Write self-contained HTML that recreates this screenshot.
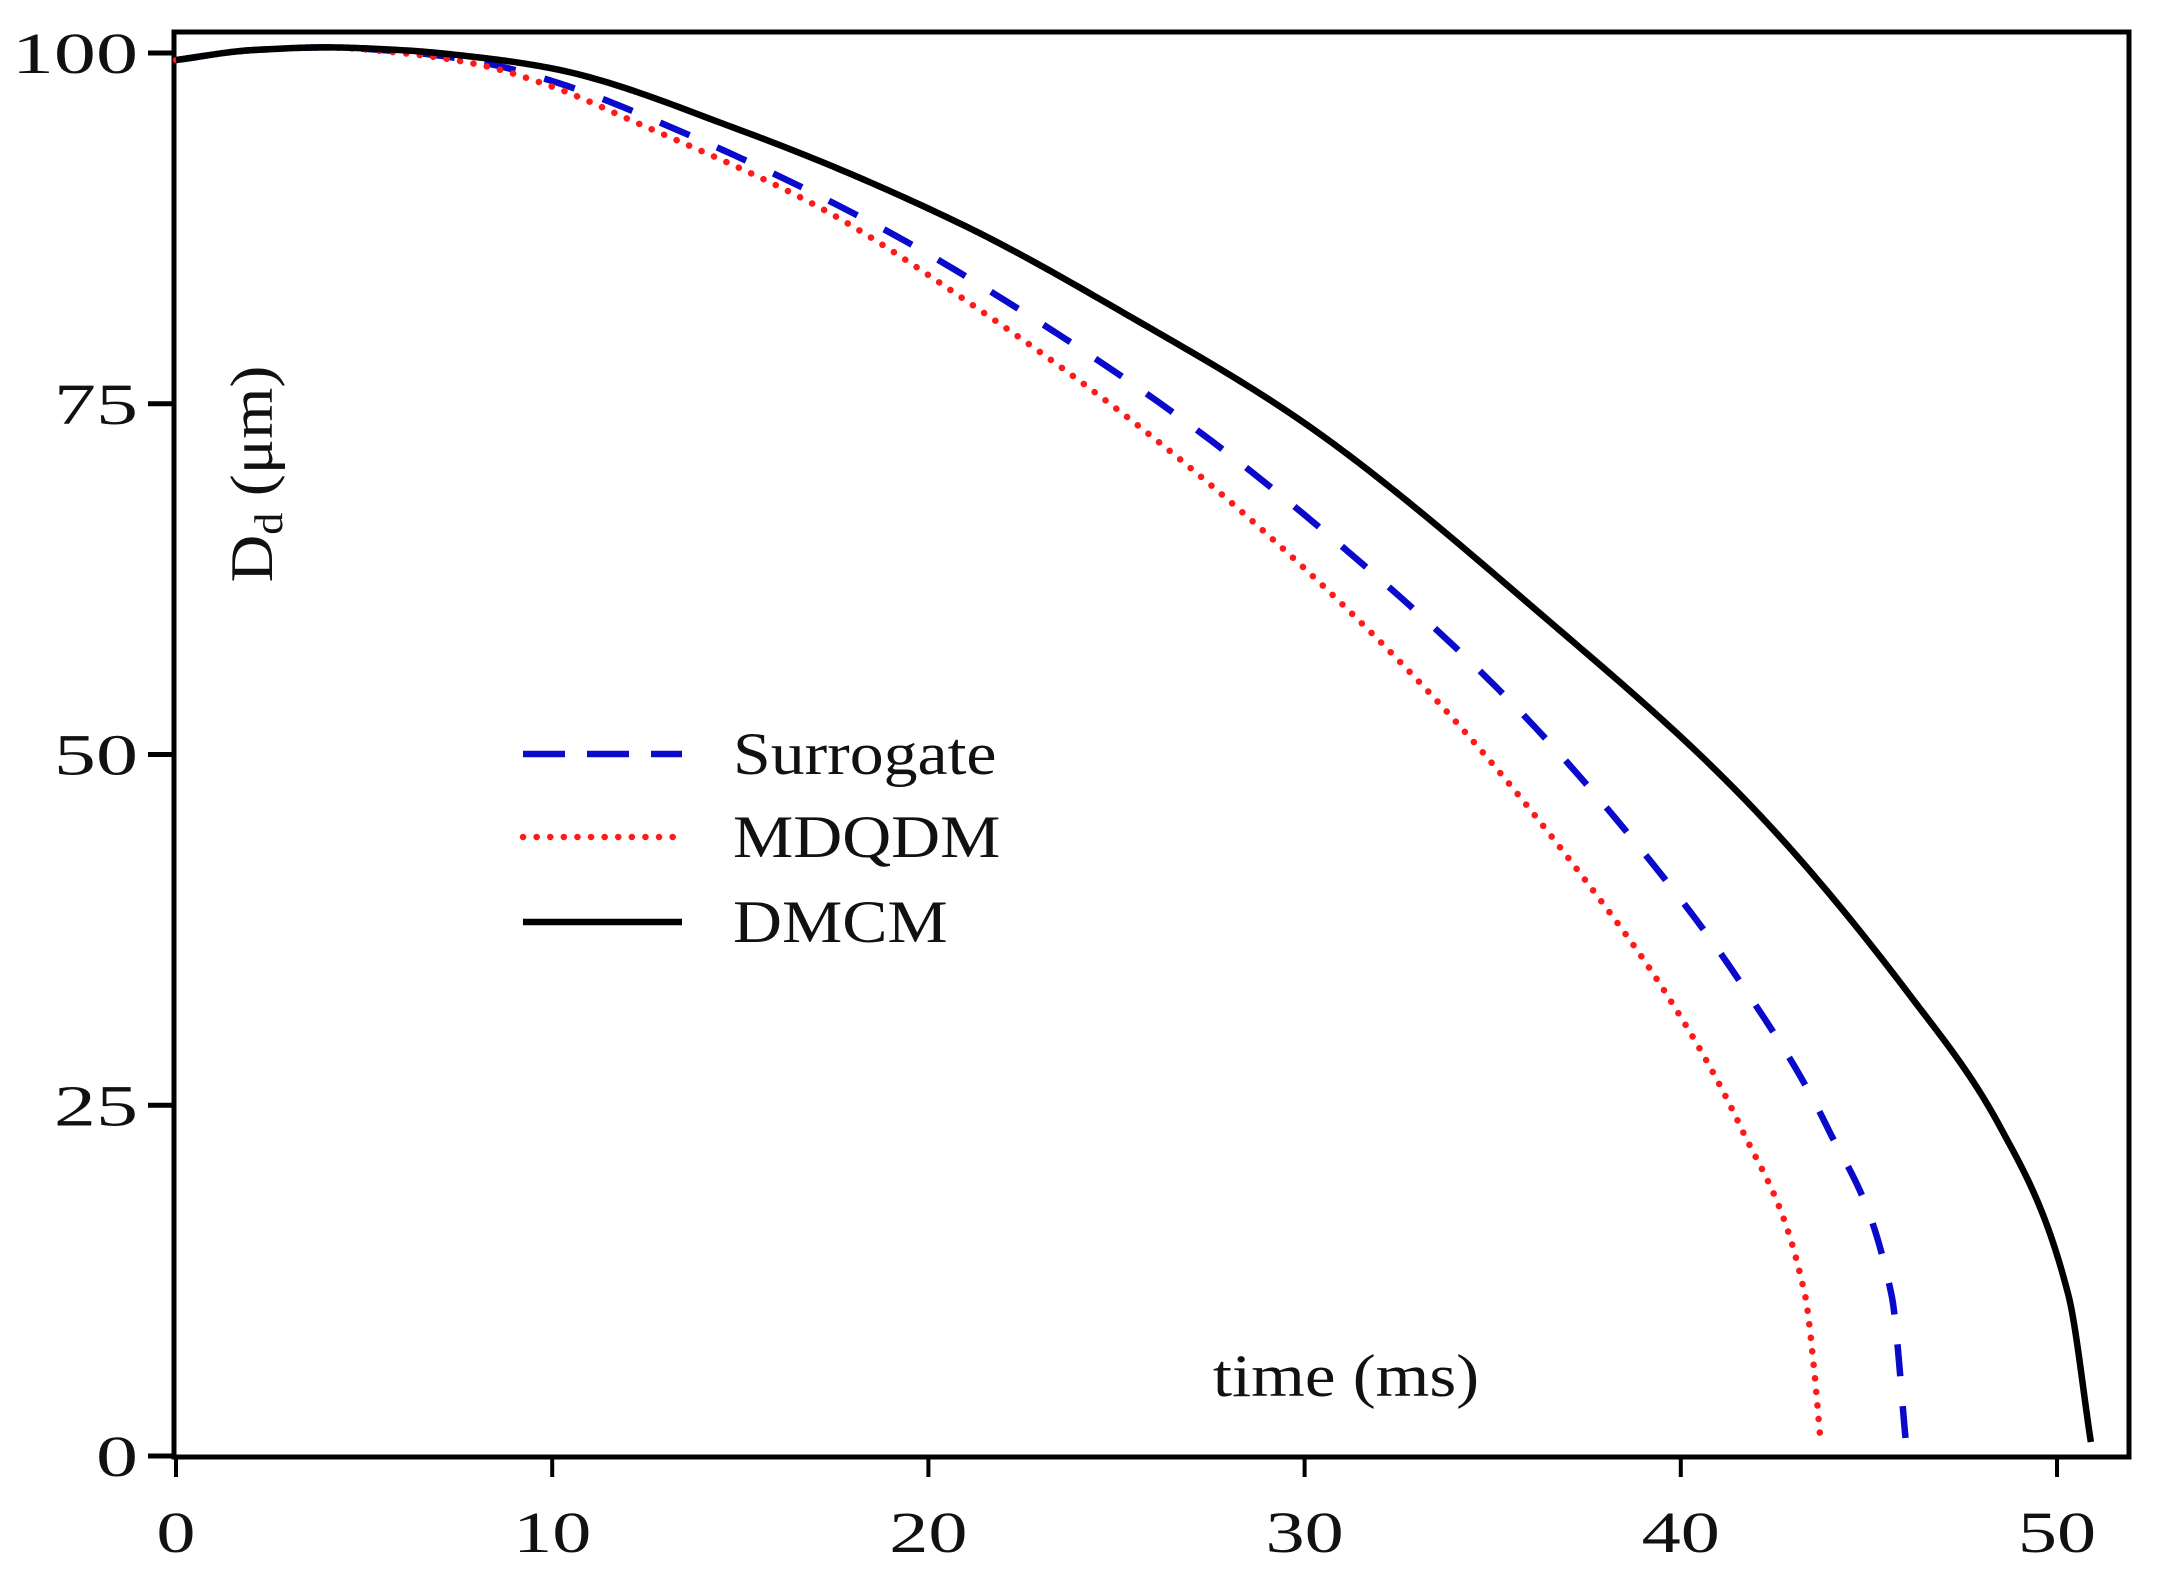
<!DOCTYPE html>
<html><head><meta charset="utf-8"><style>
html,body{margin:0;padding:0;background:#fff;}
svg{display:block;}
text{font-family:"Liberation Serif","DejaVu Serif",serif;fill:#111;}
</style></head><body>
<svg id="chart" width="2158" height="1574" viewBox="0 0 2158 1574">
<g id="axes"></g>
<g id="series"></g>
<g id="legend"></g>
</svg>
<script>
const xTicks=[0,10,20,30,40,50];
const yTicks=[0,25,50,75,100];
const seriesNames=["Surrogate","MDQDM","DMCM"];
const tSurrogate=[0,2,4,6,8,10,12.9,18.7,22.9,26.9,30.7,35.5,39.7,41.6,43.9,45.6,46];
const dSurrogate=[99.5,100.2,100.4,100.1,99.4,98.0,95,87.6,80.9,73.6,65.5,53.7,40.7,33.7,23.4,11.5,0.5];
const tMDQDM=[0,2,4,6,8,10,12.1,17.1,21.3,25.5,29.7,33.9,37.7,39.6,41.6,43.3,43.55,43.7];
const dMDQDM=[99.5,100.2,100.4,100,99.2,97.6,95.2,89,81.8,73.6,64,52.7,40.2,33,23.4,11.5,6,1.5];
const tDMCM=[0,2,4,6,8,10,15,20.8,25.5,29.9,36.5,41.7,46.1,48.5,50.3,50.9];
const dDMCM=[99.5,100.2,100.4,100.2,99.7,98.9,94.5,87.9,81,73.8,59.5,46.8,32.8,23.4,11.5,1];

const NS="http://www.w3.org/2000/svg";
const X0=176,XS=37.62,Y0=1456,YS=14.03;
const L=174,R=2129,T=32,B=1457;
function sx(v){return X0+v*XS;}
function sy(v){return Y0-v*YS;}
function mk(tag,attrs,parent){const e=document.createElementNS(NS,tag);for(const k in attrs)e.setAttribute(k,attrs[k]);parent.appendChild(e);return e;}
const axes=document.getElementById('axes');
const frame=mk('rect',{x:L,y:T,width:R-L,height:B-T,fill:'none',stroke:'#000','stroke-width':5},axes);


xTicks.forEach(v=>{
 const tk=mk('line',{x1:sx(v),x2:sx(v),y1:B,y2:B+20,stroke:'#000','stroke-width':4},axes);
 
 
 const tl=mk('text',{'font-size':58,'text-anchor':'middle',transform:'translate('+sx(v)+',1552) scale(1.35,1)'},axes);
 tl.textContent=v;
 
 
});
yTicks.forEach(v=>{
 const tk=mk('line',{x1:L-26,x2:L,y1:sy(v),y2:sy(v),stroke:'#000','stroke-width':5},axes);
 
 
 const tl=mk('text',{'font-size':58,'text-anchor':'end',transform:'translate('+(L-36)+','+(sy(v)+20)+') scale(1.45,1)'},axes);
 tl.textContent=v;
 
 
});
const xt=mk('text',{'font-size':60,'text-anchor':'middle',transform:'translate(1346,1396) scale(1.15,1)'},axes);
xt.textContent='time (ms)';


const yt=mk('text',{x:0,y:0,'font-size':60,'text-anchor':'middle',transform:'translate(272,474) rotate(-90) scale(1.1,1)'},axes);
yt.innerHTML='D<tspan font-size="40" dy="10">d</tspan><tspan dy="-10"> (μm)</tspan>';



function pathFor(ts,ds){
 const n=ts.length,dx=[],sl=[],m=new Array(n);
 for(let i=0;i<n-1;i++){dx.push(ts[i+1]-ts[i]);sl.push((ds[i+1]-ds[i])/dx[i]);}
 m[0]=sl[0];m[n-1]=sl[n-2];
 for(let i=1;i<n-1;i++){
  if(sl[i-1]*sl[i]<=0)m[i]=0;
  else{const w1=2*dx[i]+dx[i-1],w2=dx[i]+2*dx[i-1];m[i]=(w1+w2)/(w1/sl[i-1]+w2/sl[i]);}
 }
 let d='M'+sx(ts[0]).toFixed(2)+','+sy(ds[0]).toFixed(2);
 for(let i=0;i<n-1;i++){
  const h=dx[i];
  for(let k=1;k<=30;k++){
   const s=k/30,h00=2*s*s*s-3*s*s+1,h10=s*s*s-2*s*s+s,h01=-2*s*s*s+3*s*s,h11=s*s*s-s*s;
   const y=h00*ds[i]+h10*h*m[i]+h01*ds[i+1]+h11*h*m[i+1];
   d+=' L'+sx(ts[i]+s*h).toFixed(2)+','+sy(y).toFixed(2);
  }
 }
 return d;
}
const styles=[
 {stroke:'#0a0acc','stroke-width':6.5,'stroke-dasharray':'32 30'},
 {stroke:'#ff1a1a','stroke-width':6.5,'stroke-dasharray':'0.1 13.5','stroke-linecap':'round'},
 {stroke:'#000','stroke-width':6.5}
];
const sdata=[[tSurrogate,dSurrogate],[tMDQDM,dMDQDM],[tDMCM,dDMCM]];
const sg=document.getElementById('series');
sdata.forEach((s,i)=>{
 const a=Object.assign({d:pathFor(s[0],s[1]),fill:'none'},styles[i]);
 const pe=mk('path',a,sg);
 
 
});
const lg=document.getElementById('legend');
const ly=[754,837,922];
const legendDash=['42 22',null,null];
seriesNames.forEach((n,i)=>{
 const st=Object.assign({},styles[i]);
 if(legendDash[i])st['stroke-dasharray']=legendDash[i];
 const ln=mk('line',Object.assign({x1:523,x2:682,y1:ly[i],y2:ly[i]},st),lg);
 
 
 const tx=mk('text',{'font-size':60,transform:'translate(733,'+(ly[i]+20)+') scale(1.13,1)'},lg);
 tx.textContent=n;
 
 
});
</script>
</body></html>
